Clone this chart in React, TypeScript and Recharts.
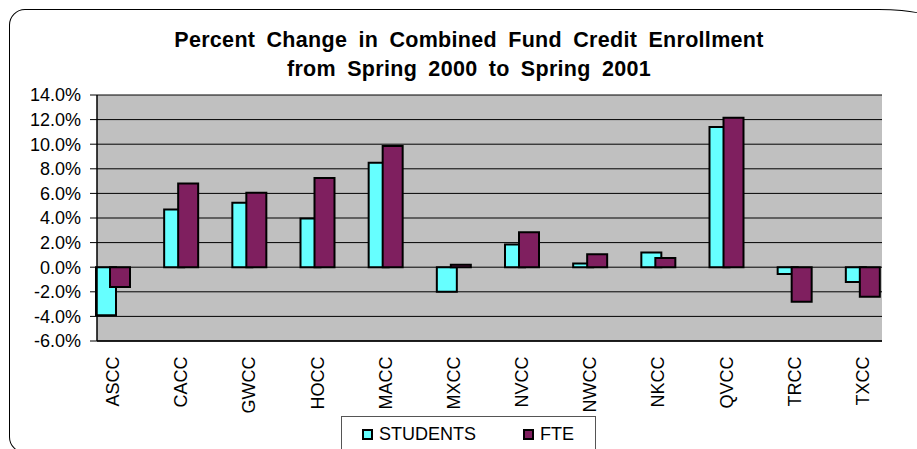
import React from 'react';
import { BarChart, Bar, XAxis, YAxis, CartesianGrid, Legend } from 'recharts';

const colleges = ['ASCC', 'CACC', 'GWCC', 'HOCC', 'MACC', 'MXCC', 'NVCC', 'NWCC', 'NKCC', 'QVCC', 'TRCC', 'TXCC'];
const studentsChange = [-3.9, 4.7, 5.25, 3.95, 8.5, -2.0, 1.85, 0.3, 1.2, 11.4, -0.55, -1.2];
const fteChange = [-1.6, 6.8, 6.05, 7.25, 9.85, 0.2, 2.85, 1.05, 0.75, 12.15, -2.8, -2.4];
const yTicks = [-6, -4, -2, 0, 2, 4, 6, 8, 10, 12, 14];
const seriesNames = ['STUDENTS', 'FTE'];
const titleLines = ['Percent Change in Combined Fund Credit Enrollment', 'from Spring 2000 to Spring 2001'];

const data = colleges.map((c, i) => ({ college: c, students: studentsChange[i], fte: fteChange[i] }));

const FONT = '"Liberation Sans", Arial, sans-serif';
const CYAN = '#66FFFF';
const PLUM = '#7F1F5F';

const XTick = (props: any) => {
  const { x, y, payload } = props;
  const ty = y + 15.5;
  return (
    <text
      x={x}
      y={ty}
      transform={`rotate(-90, ${x}, ${ty})`}
      textAnchor="end"
      dominantBaseline="central"
      fontSize={18}
      fontFamily={FONT}
      fill="#000"
    >
      {payload.value}
    </text>
  );
};

const LegendContent = (props: any) => {
  const payload = [...(props.payload || [])].sort(
    (a: any, b: any) => seriesNames.indexOf(a.value) - seriesNames.indexOf(b.value)
  );
  return (
    <div
      style={{
        width: 255,
        height: 40,
        boxSizing: 'border-box',
        border: '1px solid #555',
        background: '#fff',
        position: 'relative',
        fontFamily: FONT,
        fontSize: 18,
      }}
    >
      {payload.map((p: any, i: number) => (
        <div
          key={p.value}
          style={{
            position: 'absolute',
            left: i === 0 ? 20 : 181,
            top: 9,
            display: 'flex',
            alignItems: 'center',
            height: 16,
            whiteSpace: 'nowrap',
          }}
        >
          <span
            style={{
              display: 'inline-block',
              width: 11,
              height: 11,
              boxSizing: 'border-box',
              border: '2px solid #000',
              background: p.color,
              marginRight: 6,
            }}
          />
          <span style={{ color: '#000', lineHeight: '16px' }}>{p.value}</span>
        </div>
      ))}
    </div>
  );
};

export default function App() {
  return (
    <div
      style={{
        position: 'absolute',
        left: 0,
        top: 0,
        width: 917,
        height: 449,
        overflow: 'hidden',
        background: '#fff',
      }}
    >
      <div
        style={{
          position: 'absolute',
          left: 9,
          top: 9,
          width: 930,
          height: 444,
          boxSizing: 'border-box',
          border: '1.5px solid #000',
          borderRadius: '16px 60px 16px 16px / 16px 14px 16px 16px',
        }}
      />
      <div
        style={{
          position: 'absolute',
          left: 0,
          top: 25.7,
          width: 938,
          textAlign: 'center',
          fontFamily: FONT,
          fontWeight: 'bold',
          fontSize: 21.5,
          letterSpacing: 0.3,
          wordSpacing: 5,
          lineHeight: '29px',
          color: '#000',
          whiteSpace: 'nowrap',
        }}
      >
        {titleLines.map((t) => (
          <div key={t}>{t}</div>
        ))}
      </div>
      <div style={{ position: 'absolute', left: 0, top: 0 }}>
        <BarChart
          width={917}
          height={449}
          data={data}
          margin={{ top: 95, right: 35, bottom: 0, left: 0 }}
          barSize={20}
          barGap={-6}
        >
          <CartesianGrid vertical={false} horizontal stroke="#000" strokeWidth={1} fill="#C0C0C0" fillOpacity={1} />
          <XAxis
            dataKey="college"
            height={108}
            padding={{ left: -18, right: -15 }}
            allowDataOverflow
            interval={0}
            tickLine={false}
            tickSize={0}
            tickMargin={0}
            axisLine={{ stroke: '#000', strokeWidth: 1.5 }}
            tick={<XTick />}
          />
          <YAxis
            width={97}
            domain={[-6, 14]}
            ticks={yTicks}
            interval={0}
            allowDataOverflow
            tickSize={7}
            tickMargin={9}
            tickLine={{ stroke: '#000' }}
            axisLine={{ stroke: '#000', strokeWidth: 1.5 }}
            tickFormatter={(v: number) => `${v.toFixed(1)}%`}
            tick={{ fill: '#000', fontSize: 18, fontFamily: FONT }}
          />
          <YAxis
            yAxisId="right"
            orientation="right"
            width={0}
            domain={[-6, 14]}
            tick={false}
            tickLine={false}
            axisLine={{ stroke: '#808080', strokeWidth: 1.5 }}
          />
          <Legend
            layout="horizontal"
            verticalAlign="middle"
            align="center"
            wrapperStyle={{ left: 341, top: 416, width: 255, height: 40 }}
            content={<LegendContent />}
          />
          <Bar dataKey="students" name={seriesNames[0]} fill={CYAN} stroke="#000" strokeWidth={2} isAnimationActive={false} />
          <Bar dataKey="fte" name={seriesNames[1]} fill={PLUM} stroke="#000" strokeWidth={2} isAnimationActive={false} />
        </BarChart>
      </div>
    </div>
  );
}
